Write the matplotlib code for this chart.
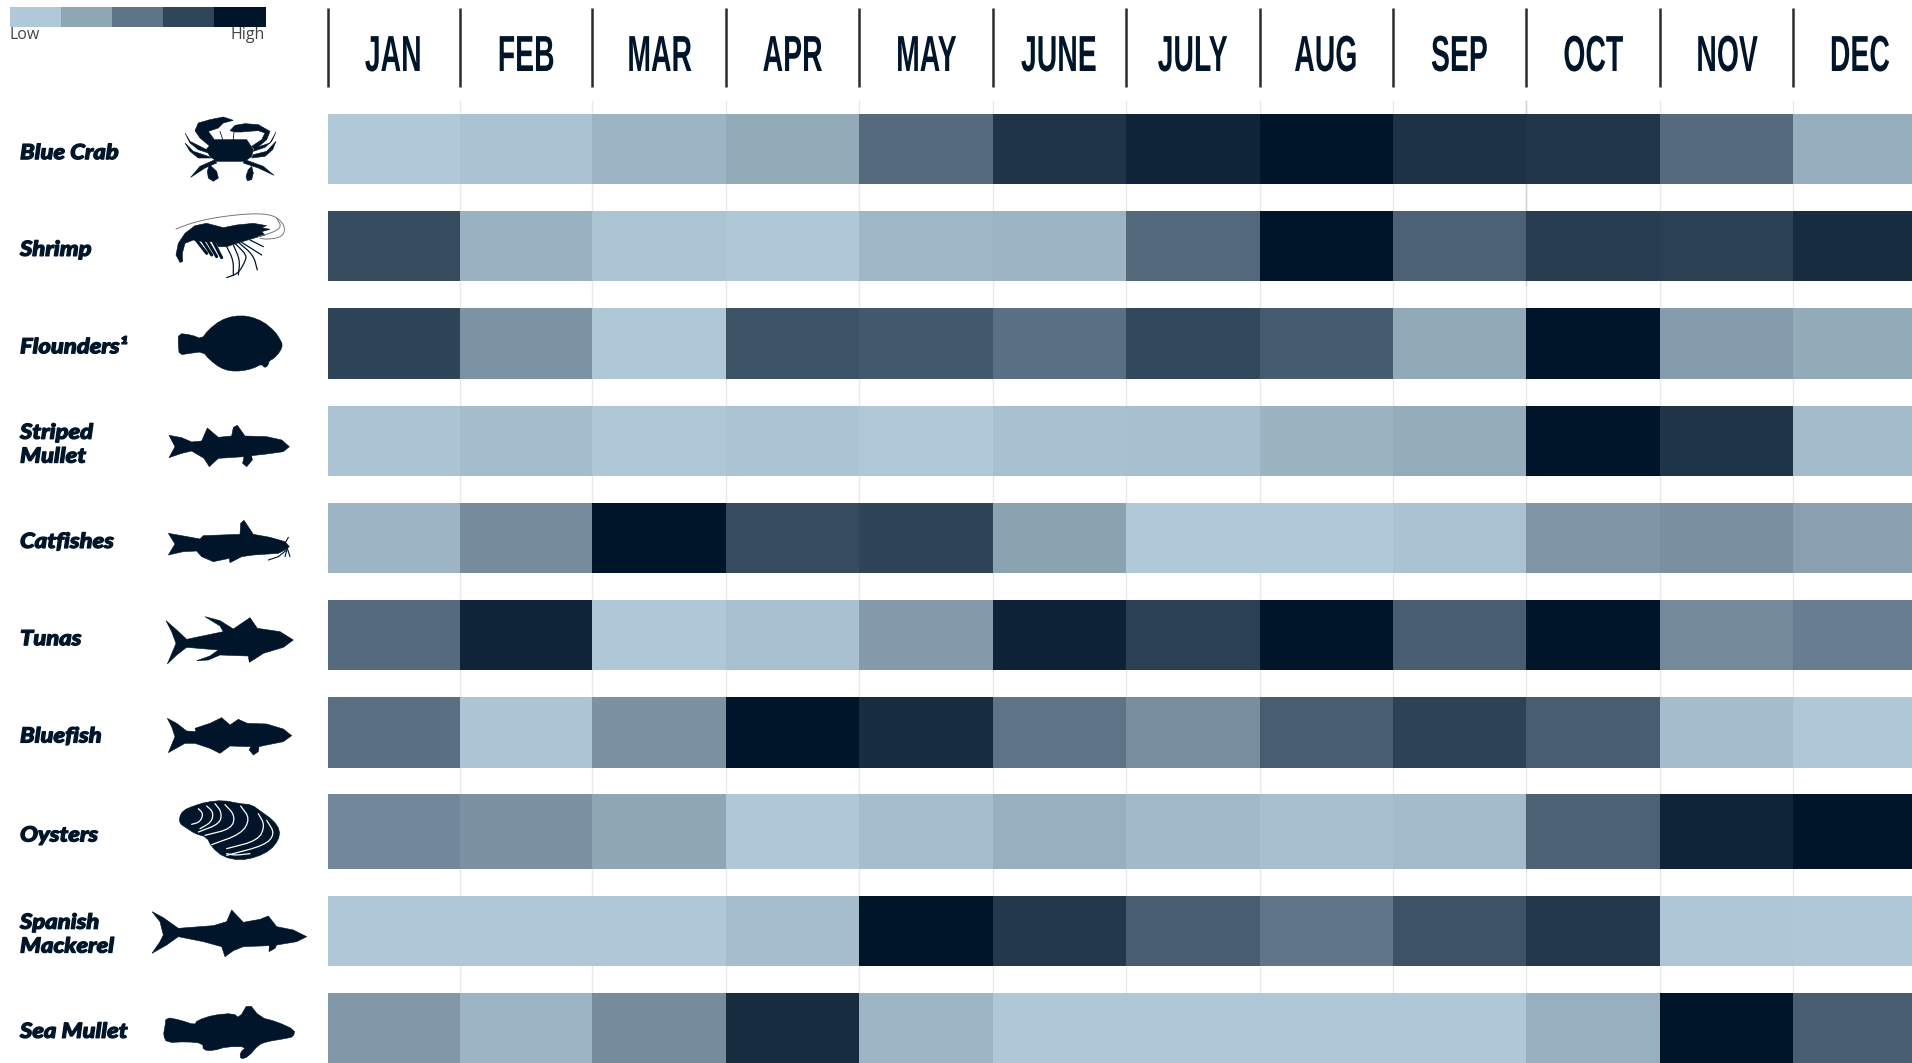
import numpy as np
import matplotlib
matplotlib.use("Agg")
import matplotlib.pyplot as plt
from matplotlib.colors import LinearSegmentedColormap
from matplotlib.patches import Polygon
from matplotlib.patheffects import AbstractPathEffect
from matplotlib.transforms import Affine2D

# data
months = ["JAN", "FEB", "MAR", "APR", "MAY", "JUNE", "JULY", "AUG", "SEP", "OCT", "NOV", "DEC"]
species = ["Blue Crab", "Shrimp", "Flounders¹", "Striped\nMullet", "Catfishes",
           "Tunas", "Bluefish", "Oysters", "Spanish\nMackerel", "Sea Mullet"]
blue_crab = [0, 5, 15, 22, 55, 84, 92, 100, 85, 83, 55, 19]
shrimp = [72, 17, 3, 1, 13, 15, 56, 100, 60, 80, 78, 88]
flounders = [76, 34, 1, 68, 65, 52, 74, 63, 23, 100, 30, 22]
striped_mullet = [4, 9, 1, 4, 0, 6, 7, 16, 21, 100, 84, 10]
catfishes = [15, 38, 100, 72, 76, 27, 0, 0, 5, 33, 36, 28]
tunas = [55, 92, 1, 6, 31, 93, 78, 100, 62, 100, 39, 45]
bluefish = [52, 3, 35, 100, 88, 50, 37, 62, 77, 62, 9, 1]
oysters = [40, 35, 25, 1, 8, 18, 11, 7, 10, 60, 92, 100]
spanish_mackerel = [1, 1, 1, 8, 100, 82, 62, 49, 68, 82, 2, 1]
sea_mullet = [32, 15, 38, 88, 14, 1, 1, 1, 1, 18, 100, 62]
rows = [blue_crab, shrimp, flounders, striped_mullet, catfishes,
        tunas, bluefish, oysters, spanish_mackerel, sea_mullet]
legend_values = [0, 25, 50, 75, 100]

# layout in pixels of the picture
x_edges = [328, 459.7, 592.3, 726, 859, 992.6, 1125.8, 1259.6, 1393, 1526, 1660, 1793, 1926]
row_tops = [114.3, 210.7, 308, 405.7, 502.7, 600, 697.3, 794.3, 895.5, 992.7]
row_bottoms = [184, 281, 378.6, 475.7, 573.2, 670.4, 767.6, 868.6, 965.8, 1063]
legend_edges = [10, 61, 112, 163, 214, 266]

NAVY = "#00152a"
cmap = LinearSegmentedColormap.from_list(
    "catch", ["#b1c8d9", "#8fa6b5", "#5f7386", "#324659", NAVY])


class Squeeze(AbstractPathEffect):
    # narrows the glyphs, there is no condensed poster font installed
    def __init__(self, sx):
        self.sx = sx

    def draw_path(self, renderer, gc, tpath, affine, rgbFace=None):
        ext = tpath.get_extents()
        cx = (ext.x0 + ext.x1) / 2
        squeeze = Affine2D().translate(-cx, 0).scale(self.sx, 1).translate(cx, 0)
        renderer.draw_path(gc, tpath, squeeze + affine, rgbFace)


class WideHeavy(AbstractPathEffect):
    # stretches from the left end of the line and fattens, to get near the black italic of the original
    def __init__(self, sx, lw):
        self.sx = sx
        self.lw = lw

    def draw_path(self, renderer, gc, tpath, affine, rgbFace=None):
        gc0 = renderer.new_gc()
        gc0.copy_properties(gc)
        gc0.set_linewidth(self.lw)
        gc0.set_foreground(rgbFace)
        renderer.draw_path(gc0, tpath, Affine2D().scale(self.sx, 1) + affine, rgbFace)
        gc0.restore()


fig = plt.figure(figsize=(19.12, 10.63), dpi=100)
ax = fig.add_axes([0, 0, 1, 1])
ax.set_xlim(0, 1912)
ax.set_ylim(1063, 0)
ax.axis("off")

# faint month rules behind the cells
for x in x_edges[1:-1]:
    ax.plot([x, x], [101, 1063], color="#e6e9ed", lw=1, zorder=1)
ax.plot([x_edges[9]] * 2, [101, 285], color="#ccd2d9", lw=1, zorder=1)

# cells
for row, top, bottom in zip(rows, row_tops, row_bottoms):
    ax.pcolormesh(x_edges, [top, bottom], np.array([row]), cmap=cmap, vmin=0, vmax=100,
                  zorder=2, linewidth=0, antialiased=False)

# header
for x in x_edges[:-1]:
    ax.plot([x, x], [8, 87], color="#2a2a2e", lw=1.8, zorder=3, solid_capstyle="butt")
for i, m in enumerate(months):
    ax.text((x_edges[i] + x_edges[i + 1]) / 2, 71, m, ha="center", va="baseline",
            fontsize=36.5, fontweight="bold", color=NAVY,
            family=["Liberation Sans", "DejaVu Sans"], path_effects=[Squeeze(0.56)])

# legend
for i, v in enumerate(legend_values):
    ax.pcolormesh(legend_edges[i:i + 2], [7, 26.5], np.array([[v]]), cmap=cmap, vmin=0, vmax=100,
                  linewidth=0, antialiased=False)
ax.text(10, 35, "Low", ha="left", va="center", fontsize=11.5, color="#444444", family="Open Sans")
ax.text(265, 35, "High", ha="right", va="center", fontsize=11.5, color="#444444", family="Open Sans")

# species names
for name, top, bottom in zip(species, row_tops, row_bottoms):
    ax.text(20, (top + bottom) / 2 + 3.5, name, ha="left", va="center", fontsize=15,
            fontweight="black", style="italic", color=NAVY, linespacing=1.3,
            family=["Lato", "DejaVu Sans"], path_effects=[WideHeavy(1.14, 0.9)])


# silhouettes, traced by eye from crops of the picture
def chaikin(pts, closed=True, passes=2):
    pts = np.array(pts, dtype=float)
    for _ in range(passes):
        nxt = np.roll(pts, -1, axis=0) if closed else pts[1:]
        cur = pts if closed else pts[:-1]
        q = 0.75 * cur + 0.25 * nxt
        r = 0.25 * cur + 0.75 * nxt
        body = np.empty((2 * len(cur), 2))
        body[0::2] = q
        body[1::2] = r
        pts = body if closed else np.vstack([pts[0], body, pts[-1]])
    return pts


def shape(pts, y0, x0=0, smooth=False):
    pts = chaikin(pts, True, 1) if smooth else np.array(pts, dtype=float)
    ax.add_patch(Polygon(np.c_[x0 + pts[:, 0] / 3.0, y0 + pts[:, 1] / 3.0], closed=True,
                         fc=NAVY, ec=NAVY, lw=0.4, zorder=4))


def stroke(pts, y0, x0=0, color=NAVY, lw=1.0, smooth=True):
    pts = chaikin(pts, False) if smooth else np.array(pts, dtype=float)
    ax.plot(x0 + pts[:, 0] / 3.0, y0 + pts[:, 1] / 3.0, color=color, lw=lw, zorder=5,
            solid_capstyle="round")


# crab
for poly in [[(108, 125), (135, 95), (230, 95), (250, 125), (245, 145), (225, 160), (140, 160), (120, 145)],
             [(120, 115), (90, 90), (75, 68), (85, 45), (120, 35), (160, 27), (190, 37), (160, 45), (145, 60), (115, 70), (135, 98)],
             [(245, 115), (275, 95), (285, 75), (265, 68), (235, 70), (215, 72), (195, 72), (180, 68), (195, 52), (225, 47), (265, 50), (300, 70), (290, 95), (255, 125)],
             [(45, 75), (60, 100), (110, 125), (115, 135), (85, 125), (60, 105)],
             [(45, 105), (70, 130), (115, 145), (125, 150), (85, 150), (60, 130)],
             [(318, 72), (300, 105), (255, 120), (250, 130), (285, 118), (305, 100)],
             [(318, 100), (290, 130), (250, 140), (245, 150), (285, 145), (308, 125)],
             [(62, 208), (90, 175), (135, 155), (140, 165), (105, 180)],
             [(312, 202), (280, 175), (225, 155), (220, 165), (265, 180)],
             [(118, 170), (140, 190), (145, 210), (130, 220), (115, 210), (112, 190)],
             [(245, 175), (250, 195), (245, 215), (232, 218), (228, 205), (235, 185)]]:
    shape(poly, 108, 170)
stroke([(150, 70), (158, 95)], 108, 170, lw=0.6, smooth=False)
stroke([(192, 72), (190, 95)], 108, 170, lw=0.6, smooth=False)

# shrimp
shape([(30, 172), (18, 150), (25, 115), (45, 85), (75, 62), (110, 55), (160, 68), (200, 60), (250, 55), (290, 62), (275, 68), (300, 73), (275, 80),
       (285, 90), (250, 100), (200, 115), (170, 125), (145, 125), (135, 110), (100, 110), (70, 105), (45, 115), (37, 145), (38, 170)], 205, 170)
for leg in [[(75, 100), (110, 145)], [(90, 95), (125, 150)], [(105, 95), (140, 155)], [(125, 100), (155, 158)]]:
    stroke(leg, 205, 170, lw=2.2, smooth=False)
for leg in [[(170, 125), (190, 165), (190, 210)], [(190, 120), (210, 165), (205, 210)],
            [(195, 115), (230, 150), (225, 170), (205, 205), (170, 218)],
            [(205, 112), (250, 150), (262, 195)], [(215, 112), (275, 150)], [(240, 105), (280, 125)]]:
    stroke(leg, 205, 170, lw=0.9)
stroke([(18, 72), (70, 52), (150, 35), (250, 25), (310, 30), (340, 55), (345, 80), (330, 98), (290, 103), (270, 100)],
       205, 170, color="#777777", lw=0.7)
stroke([(265, 95), (310, 82), (335, 65), (320, 40)], 205, 170, color="#777777", lw=0.7)

# flounder
shape([(535, 130), (575, 135), (605, 147), (625, 120), (660, 92), (700, 78), (745, 78), (790, 95), (825, 125), (840, 148), (848, 165),
       (840, 185), (822, 205), (808, 212), (803, 228), (793, 233), (785, 222), (760, 235), (725, 243), (690, 243), (660, 233), (630, 210),
       (608, 185), (570, 190), (538, 195), (535, 165)], 290, smooth=True)
# striped mullet
shape([(507, 436), (545, 443), (575, 456), (605, 453), (622, 414), (655, 442), (695, 438), (700, 412), (712, 406), (735, 438), (800, 440),
       (845, 450), (868, 470), (850, 485), (800, 492), (755, 497), (757, 510), (740, 530), (728, 520), (732, 500), (655, 505), (628, 530),
       (612, 505), (575, 483), (545, 490), (507, 503), (525, 470)], 290)
# catfish
shape([(505, 730), (545, 737), (600, 747), (610, 737), (720, 733), (722, 700), (732, 691), (760, 733), (810, 742), (855, 755), (868, 770),
       (855, 780), (835, 790), (760, 795), (725, 800), (690, 818), (688, 805), (640, 815), (605, 800), (590, 783), (550, 785), (505, 795), (525, 762)], 290)
stroke([(855, 760), (865, 742)], 290, lw=0.8, smooth=False)
stroke([(860, 780), (835, 800), (805, 810)], 290, lw=0.8, smooth=False)
stroke([(862, 775), (855, 800)], 290, lw=0.8, smooth=False)
stroke([(862, 775), (870, 800)], 290, lw=0.8, smooth=False)
# tuna
shape([(498, 992), (530, 1020), (560, 1048), (670, 1025), (660, 1008), (615, 980), (660, 992), (700, 1017), (750, 983), (772, 1015), (840, 1025),
       (880, 1050), (850, 1072), (790, 1090), (775, 1100), (748, 1117), (745, 1098), (660, 1095), (625, 1110), (590, 1112), (630, 1098), (655, 1080),
       (560, 1072), (530, 1095), (502, 1122), (522, 1075), (528, 1060), (515, 1025)], 290)
# bluefish
shape([(502, 115), (530, 130), (560, 153), (588, 155), (585, 145), (630, 130), (665, 113), (690, 135), (715, 118), (742, 130), (800, 132),
       (850, 147), (875, 167), (850, 185), (790, 197), (777, 200), (775, 215), (760, 225), (748, 210), (752, 200), (690, 198), (660, 220),
       (630, 205), (585, 190), (555, 190), (505, 218), (525, 170), (515, 140)], 680)
# oyster
shape([(28, 75), (40, 55), (70, 42), (110, 30), (160, 25), (210, 35), (245, 38), (275, 60), (310, 85), (330, 115), (325, 145), (300, 175),
       (260, 195), (210, 205), (160, 195), (125, 165), (110, 135), (75, 125), (45, 105), (30, 95)], 792, 170, smooth=True)
for arc in [[(85, 50), (100, 65), (90, 90), (65, 97)],
            [(110, 42), (130, 60), (125, 90), (90, 110)],
            [(135, 35), (155, 60), (150, 95), (85, 120)],
            [(165, 38), (195, 70), (185, 110), (105, 130)],
            [(212, 42), (240, 80), (215, 125), (125, 158)],
            [(265, 65), (285, 100), (265, 145), (170, 170)],
            [(290, 85), (315, 125), (285, 160), (170, 190)],
            [(240, 185), (195, 190), (170, 185)]]:
    stroke(arc, 792, 170, color="white", lw=0.9)
# spanish mackerel
shape([(456, 695), (490, 713), (535, 745), (640, 737), (680, 725), (695, 690), (730, 727), (780, 718), (805, 708), (830, 740), (880, 750),
       (920, 770), (890, 785), (830, 795), (825, 805), (807, 815), (808, 797), (730, 800), (700, 812), (675, 830), (665, 800), (610, 785),
       (535, 770), (500, 795), (456, 820), (480, 785), (490, 765), (480, 725)], 680)
# sea mullet
shape([(498, 1012), (540, 1020), (585, 1035), (590, 1022), (640, 1005), (700, 1000), (718, 1015), (745, 968), (780, 1012), (830, 1025),
       (885, 1050), (880, 1070), (860, 1075), (800, 1085), (775, 1095), (745, 1130), (722, 1138), (720, 1118), (740, 1100), (680, 1100),
       (640, 1112), (610, 1110), (608, 1090), (560, 1085), (500, 1088), (490, 1065), (495, 1040)], 680, smooth=True)

fig.savefig("out.png", dpi=100, facecolor="white")
